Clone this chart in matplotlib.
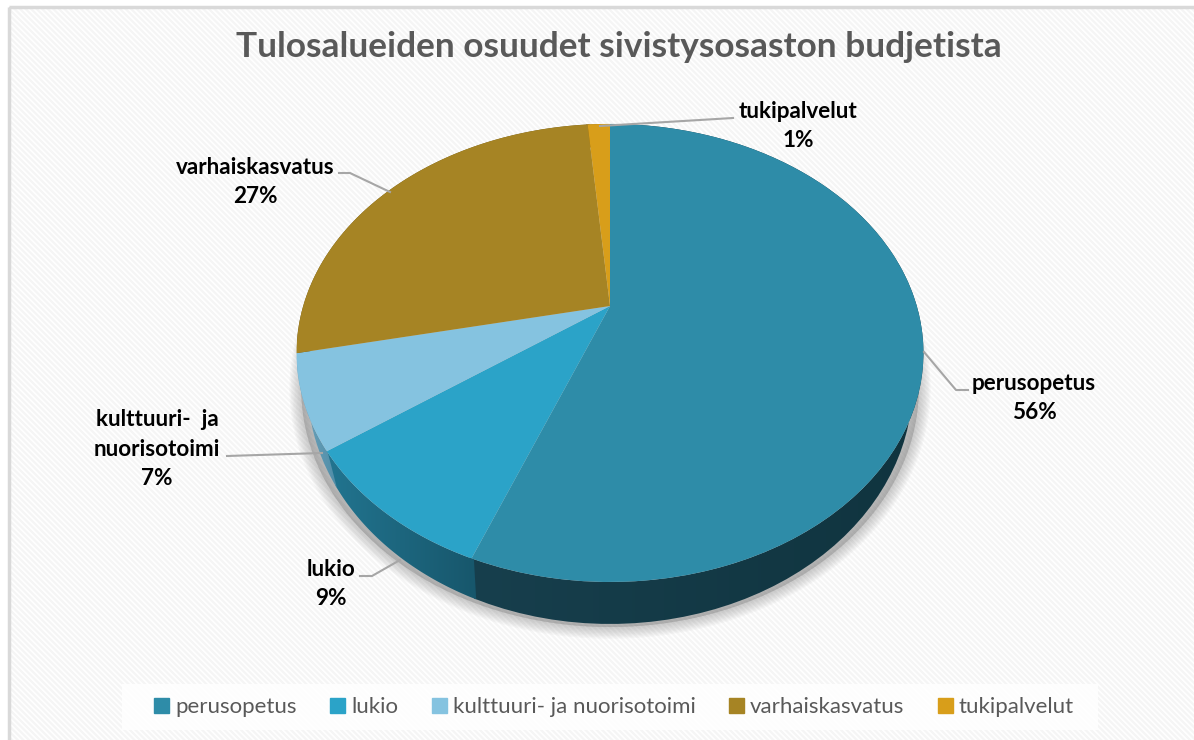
#!/usr/bin/env python3
"""Tulosalueiden osuudet - Excel style perspective 3D pie."""
import matplotlib
matplotlib.use("Agg")
import matplotlib.pyplot as plt
import matplotlib.patches as mpatches
from matplotlib.colors import LinearSegmentedColormap
from matplotlib.path import Path
from matplotlib.transforms import Affine2D, Transform
import numpy as np

TITLE = "Tulosalueiden osuudet sivistysosaston budjetista"
names = ["perusopetus", "lukio", "kulttuuri- ja nuorisotoimi", "varhaiskasvatus", "tukipalvelut"]
label_names = ["perusopetus", "lukio", "kulttuuri-  ja\nnuorisotoimi", "varhaiskasvatus", "tukipalvelut"]
# estimated unrounded shares, the labels show them rounded
shares = [55.95, 9.15, 6.6, 26.9, 1.4]
colors = ["#2E8CA8", "#2BA3C8", "#85C3E0", "#A68424", "#D89E1A"]
# wall shading of each slice, left to right
walls = [("#173F4D", "#10343F"), ("#227590", "#17566B"), ("#6FA6BF", "#4F8CA6"),
         ("#6B5517", "#6B5517"), ("#8A6510", "#8A6510")]

# pie geometry in pixels
APEX_X, APEX_Y = 610, 306
SX, SY = 306.8, 219.4
TILT = 0.205
FACE_CY, FACE_RY = 352.5, 229.5
RIM_CY, RIM_RY = 385, 239
RIM_XS = 0.965

plt.rcParams["font.family"] = ["Lato", "DejaVu Sans"]
plt.rcParams["hatch.linewidth"] = 1.6


class Perspective(Transform):
    input_dims = output_dims = 2

    def transform_non_affine(self, values):
        values = np.asarray(values, dtype=float)
        w = 1 + TILT * values[:, 1]
        return np.column_stack([values[:, 0] / w, values[:, 1] / w])


def project(angles):
    # angles clockwise from the top, degrees
    a = np.radians(angles)
    w = 1 + TILT * np.cos(a)
    return np.column_stack([APEX_X + SX * np.sin(a) / w, APEX_Y - SY * np.cos(a) / w])


def bottom_rim(angles, xs=RIM_XS, drop=0):
    p = project(angles)
    return np.column_stack([APEX_X + (p[:, 0] - APEX_X) * xs,
                            RIM_CY + drop + (p[:, 1] - FACE_CY) * RIM_RY / FACE_RY])


fig = plt.figure(figsize=(11.94, 7.4), dpi=100, facecolor="white")
ax = fig.add_axes([0, 0, 1, 1])

# hatched backdrop and frame, the right and bottom edges fall outside the picture
ax.add_patch(mpatches.Rectangle((9, 7), 1300, 800, facecolor="white", edgecolor="#F5F5F5",
                                hatch="\\\\\\\\\\\\", linewidth=0, zorder=0))
ax.add_patch(mpatches.Rectangle((9, 7), 1300, 800, fill=False, edgecolor="#D9D9D9",
                                linewidth=2.5, zorder=1))

# soft shadow under the pie
rim = bottom_rim(np.arange(0, 360, 2), xs=0.985, drop=3)
for lw in [1, 3, 5, 7, 9, 11, 13, 15, 17]:
    ax.add_patch(mpatches.Polygon(rim, closed=True, facecolor="#808080", edgecolor="#808080",
                                  linewidth=lw, alpha=0.05, zorder=2, joinstyle="round"))

# side walls, drawn a little past their ends so no seam shows
edges = np.concatenate([[0], np.cumsum(shares)]) * 3.6
for i in range(len(shares)):
    arc = np.linspace(edges[i] - 0.4, edges[i + 1] + 0.4, 80)
    wall = np.vstack([project(arc), bottom_rim(arc[::-1])])
    x0, x1 = wall[:, 0].min(), wall[:, 0].max()
    y0, y1 = wall[:, 1].min(), wall[:, 1].max()
    cmap = LinearSegmentedColormap.from_list("wall", list(walls[i]))
    im = ax.imshow(np.linspace(0, 1, 256)[None, :], cmap=cmap, aspect="auto",
                   extent=(x0, x1, y1, y0), zorder=3)
    im.set_clip_path(Path(wall, closed=True), transform=ax.transData)

# top face
wedges, _ = ax.pie(shares, colors=colors, startangle=90, counterclock=False, radius=1)
to_pixels = Perspective() + Affine2D().scale(SX, -SY).translate(APEX_X, APEX_Y) + ax.transData
for w in wedges:
    w.set_transform(to_pixels)
    w.set_zorder(4)

ax.set_aspect("auto")
ax.set_xlim(0, 1194)
ax.set_ylim(740, 0)
ax.axis("off")

ax.text(619, 47, TITLE, color="#595959", fontsize=25.4, fontweight="bold",
        ha="center", va="center", zorder=6)

# data labels with leader lines
label_pos = [(1034, 398), (331, 584), (157, 449), (255, 182), (798, 126)]
leader_x = [(924, 956, 968), (400, 372, 360), (322, 227), (390, 350, 339), (600, 733)]
leader_y = [(352, 390, 390), (560, 576, 576), (453, 456), (192, 173, 173), (126, 118)]
for name, v, pos, lx, ly in zip(label_names, shares, label_pos, leader_x, leader_y):
    ax.plot(lx, ly, color="#A6A6A6", linewidth=1.5, zorder=5)
    ax.text(pos[0], pos[1], f"{name}\n{v:.0f}%", color="black", fontsize=16.2, fontweight="bold",
            ha="center", va="center", linespacing=1.5, zorder=6)

# legend
ax.add_patch(mpatches.Rectangle((122, 684), 976, 46, facecolor="white", edgecolor="none",
                                alpha=0.85, zorder=5))
handles = [mpatches.Patch(color=c, label=n) for c, n in zip(colors, names)]
leg = ax.legend(handles=handles, ncol=5, loc="center", bbox_to_anchor=(614, 707),
                bbox_transform=ax.transData, frameon=False, fontsize=16, labelcolor="#595959",
                handlelength=0.68, handleheight=0.68, handletextpad=0.27, columnspacing=1.5)
leg.set_zorder(6)

fig.savefig("out.png", dpi=100, facecolor="white")
